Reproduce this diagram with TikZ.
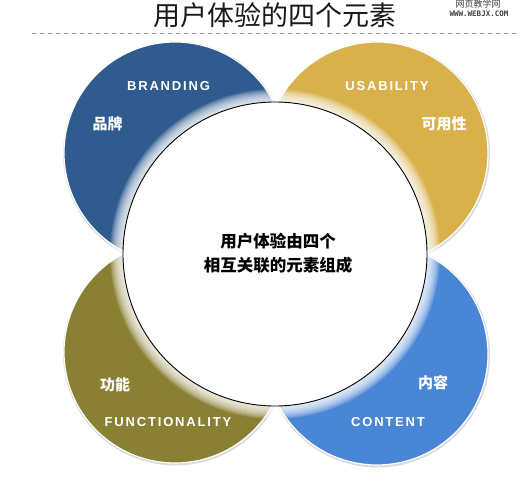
\documentclass[tikz,border=0pt]{standalone}
\usepackage{fontspec}
\setmainfont{Liberation Sans}
\newfontfamily\cjk{Noto Sans CJK SC}
\newfontfamily\lbl[LetterSpace=14]{Liberation Sans}
\newfontfamily\wmono{DejaVu Sans Mono}
\definecolor{cbrand}{RGB}{47,91,143}
\definecolor{cusab}{RGB}{216,177,74}
\definecolor{cfunc}{RGB}{138,128,52}
\definecolor{ccont}{RGB}{74,134,214}
\definecolor{cdash}{RGB}{140,140,140}
\tikzset{
  petal/.style={circle, inner sep=0pt, minimum size=222pt, draw=white, line width=1.2pt},
  petalshadow/.style={circle, inner sep=0pt, minimum size=225pt, fill=black!14},
  entxt/.style={text=white, font=\lbl\bfseries\fontsize{13}{15}\selectfont},
  cntxt/.style={text=white, font=\cjk\bfseries\fontsize{15}{18}\selectfont},
}
\begin{document}
\begin{tikzpicture}[x=1pt,y=-1pt]
\useasboundingbox (0,0) rectangle (520,495);
% title
\node[font=\cjk\fontsize{27}{30}\selectfont, text=black!90] (title) at (275,15) {用户体验的四个元素};
\node[font=\cjk\fontsize{9}{10}\selectfont, text=black!75] (wm1) at (478,4) {网页教学网};
\node[font=\wmono\bfseries\fontsize{7.5}{8}\selectfont, text=black!75] (wm2) at (479,14) {WWW.WEBJX.COM};
\coordinate (dl1) at (32,33.5);
\coordinate (dl2) at (518,33.5);
\draw[cdash, line width=1.5pt, dash pattern=on 4pt off 4pt] (dl1) -- (dl2);
% petal shadows
\node[petalshadow] (s1) at (175.5,154) {};
\node[petalshadow] (s2) at (377.5,154) {};
\node[petalshadow] (s3) at (175.5,353) {};
\node[petalshadow] (s4) at (377.5,355) {};
% petals
\node[petal, fill=cbrand] (brand) at (175,153) {};
\node[petal, fill=cusab] (usab) at (377,153) {};
\node[petal, fill=cfunc] (func) at (175,352) {};
\node[petal, fill=ccont] (cont) at (377,354) {};
% glow around centre
\coordinate (cc) at (275,254);
\foreach \i in {1,...,13}{
  \fill[white, opacity=0.13] (cc) circle[radius={152pt+\i pt}];
}
% centre circle
\node[circle, inner sep=0pt, minimum size=304pt, fill=white, draw=black, line width=0.9pt] (core) at (cc) {};
\node[align=center, font=\cjk\bfseries\fontsize{16.5}{24}\selectfont] (coretxt) at (278,253.5) {用户体验由四个\\相互关联的元素组成};
% labels
\node[entxt] (lb1) at (168.5,86) {BRANDING};
\node[cntxt] (lc1) at (107.5,123.5) {品牌};
\node[entxt] (lb2) at (387,86) {USABILITY};
\node[cntxt] (lc2) at (444,123.5) {可用性};
\node[cntxt] (lc3) at (115,384.5) {功能};
\node[entxt] (lb3) at (168,422) {FUNCTIONALITY};
\node[cntxt] (lc4) at (433,383) {内容};
\node[entxt] (lb4) at (388,422) {CONTENT};
\end{tikzpicture}
\end{document}
